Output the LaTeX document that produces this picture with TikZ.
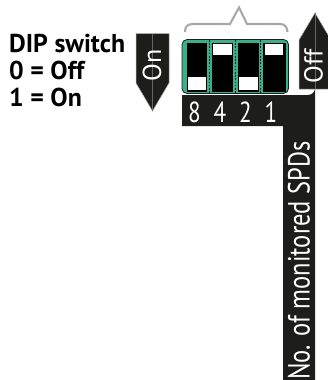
\documentclass[tikz,border=0pt]{standalone}
\usepackage{fontspec}
\usepackage{graphicx}
\setmainfont{PT Sans}
\definecolor{inkb}{HTML}{1D1D1B}
\definecolor{sw}{HTML}{3BAE8C}
\definecolor{grayl}{HTML}{A8A8A8}
\tikzset{
  cell/.style={fill=black,draw=none},
  slider/.style={fill=white,draw=none},
  divider/.style={inkb,line width=0.8pt,dash pattern=on 1.6pt off 1.6pt},
  wlabel/.style={text=white,inner sep=0pt,font=\fontsize{29}{29}\selectfont},
  arrowlabel/.style={text=white,inner sep=0pt,font=\fontsize{26}{26}\selectfont},
  legend/.style={inner sep=0pt,align=left,font=\fontsize{25.8}{27}\selectfont\bfseries}
}
\begin{document}
\begin{tikzpicture}[x=1pt,y=-1pt]
\useasboundingbox (0,0) rectangle (328,380);
% label bar
\fill[inkb] (182,95) -- (308,95) arc[start angle=90,end angle=0,radius=7] -- (315,380) -- (283,380) -- (283,126) -- (182,126) -- cycle;
% switch
\draw[inkb,fill=sw,line width=0.8pt,rounded corners=5pt] (182,39.5) rectangle (288.5,93.5);
\fill[cell] (187,42.5) rectangle (207,91.5);
\fill[cell] (212,42.5) rectangle (232.5,91.5);
\fill[cell] (238,42.5) rectangle (258.5,91.5);
\fill[cell] (263,42.5) rectangle (285.5,91.5);
\fill[slider] (188,77) rectangle (206,90);
\fill[slider] (213,43.5) rectangle (231.5,55);
\fill[slider] (239,77) rectangle (257.5,89.5);
\fill[slider] (264.5,43.5) rectangle (283,55);
\draw[divider] (209.5,40) -- (209.5,93);
\draw[divider] (235.3,40) -- (235.3,93);
\draw[divider] (260.7,40) -- (260.7,93);
% brace
\draw[grayl,line width=2.1pt,line join=miter] (185,32) .. controls (185,27) and (187,24) .. (193,24) -- (230,24) -- (239,7.5) -- (247,24) -- (280,24) .. controls (285,24) and (287,27) .. (287.5,32);
% On arrow
\fill[inkb,draw=grayl,line width=0.5pt] (136,33.5) -- (169,33.5) -- (169,83) -- (152.5,111) -- (136,83) -- cycle;
\draw[black!60,line width=0.4pt] (152.5,33.5) -- (152.5,111);
\node[arrowlabel,rotate=90] (on) at (152,65) {On};
% Off arrow
\fill[inkb,draw=grayl,line width=0.5pt] (315,13) -- (331,40) -- (331,89) -- (299,89) -- (299,40) -- cycle;
\draw[black!60,line width=0.4pt] (315,13) -- (315,89);
\node[arrowlabel,rotate=90] (off) at (313.5,66) {Off};
% digits
\node[wlabel] (d8) at (194.5,112) {\scalebox{0.8}[1]{8}};
\node[wlabel] (d4) at (220,112) {\scalebox{0.8}[1]{4}};
\node[wlabel] (d2) at (245.5,112) {\scalebox{0.8}[1]{2}};
\node[wlabel] (d1) at (271,112) {\scalebox{0.8}[1]{1}};
\node[wlabel,rotate=90,font=\fontsize{30}{30}\selectfont] (spd) at (299,260.5) {\resizebox{238pt}{!}{\scalebox{0.8}[1]{No. of monitored SPDs}}};
\node[legend,anchor=north west] (leg) at (9,34) {DIP switch\\0 = Off\\1 = On};
\end{tikzpicture}
\end{document}
